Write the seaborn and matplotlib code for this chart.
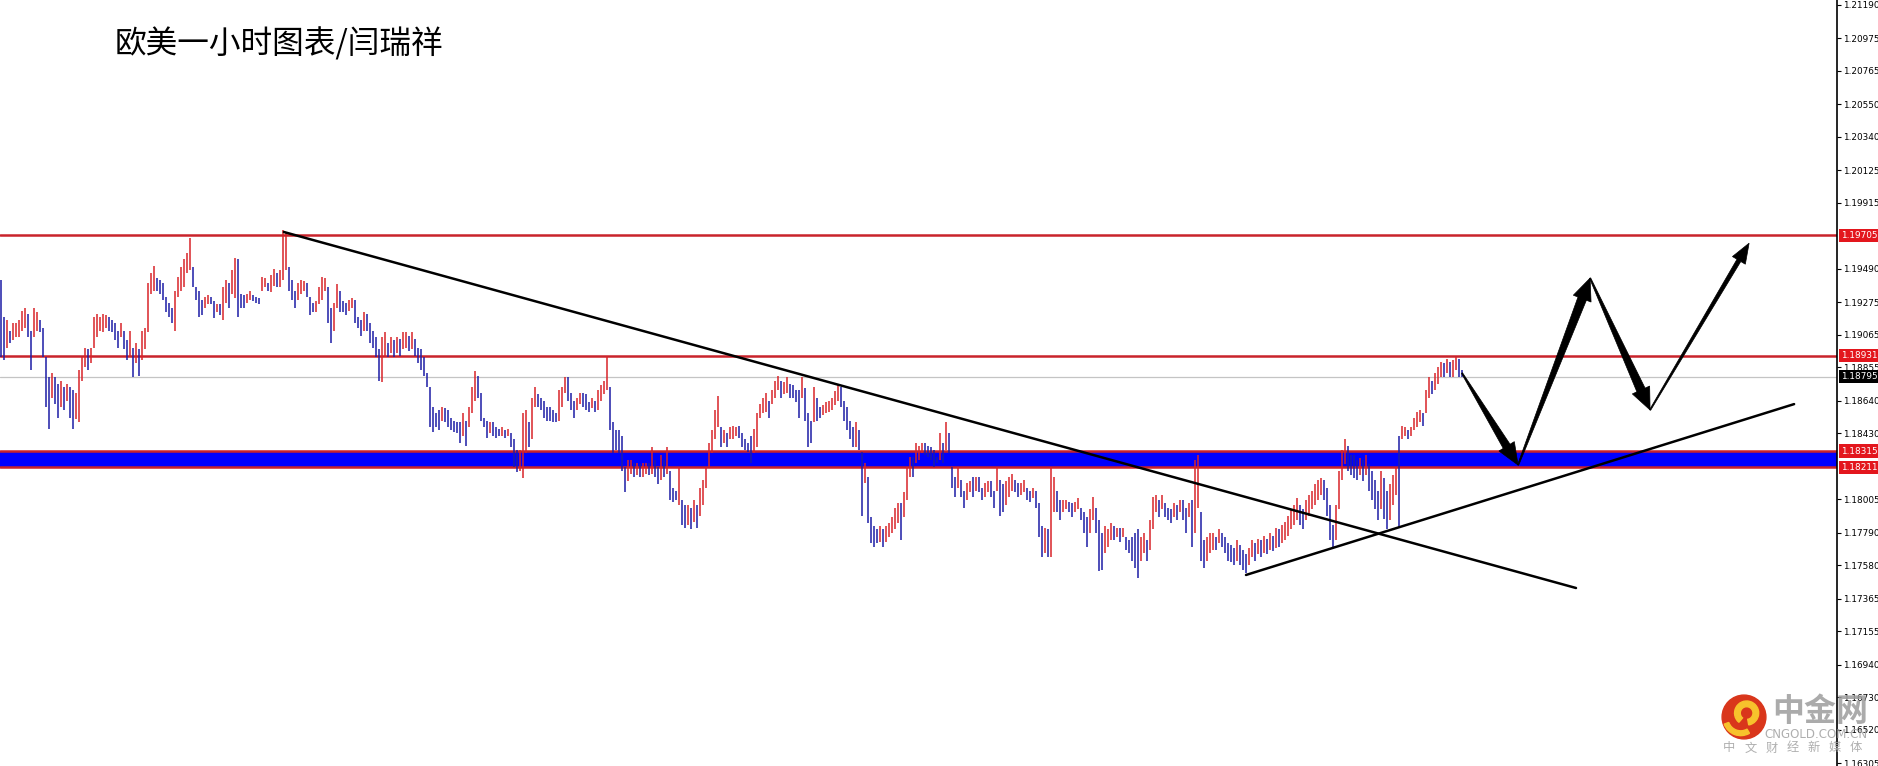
import numpy as np
import pandas as pd
import matplotlib
matplotlib.use("Agg")
import matplotlib.pyplot as plt
import matplotlib.transforms as mtransforms
from matplotlib.patches import Polygon, Circle, Wedge
import seaborn as sns

# EURUSD 1h bars (high / low per bar)
highs = [
    1.1942, 1.1918, 1.1916, 1.1909, 1.1914, 1.1914, 1.1916, 1.1922, 1.1924, 1.1920,
    1.1909, 1.1924, 1.1921, 1.1916, 1.1911, 1.1892, 1.1879, 1.1882, 1.1879, 1.1875,
    1.1877, 1.1873, 1.1875, 1.1873, 1.1871, 1.1869, 1.1884, 1.1892, 1.1898, 1.1897,
    1.1898, 1.1918, 1.1920, 1.1918, 1.1920, 1.1919, 1.1918, 1.1916, 1.1914, 1.1909,
    1.1914, 1.1909, 1.1903, 1.1909, 1.1898, 1.1901, 1.1897, 1.1909, 1.1911, 1.1940,
    1.1946, 1.1951, 1.1943, 1.1942, 1.1940, 1.1931, 1.1927, 1.1924, 1.1935, 1.1944,
    1.1950, 1.1955, 1.1959, 1.1969, 1.1950, 1.1937, 1.1935, 1.1929, 1.1931, 1.1932,
    1.1931, 1.1928, 1.1926, 1.1926, 1.1937, 1.1942, 1.1940, 1.1948, 1.1956, 1.1955,
    1.1933, 1.1932, 1.1933, 1.1935, 1.1932, 1.1931, 1.1930, 1.1944, 1.1943, 1.1940,
    1.1945, 1.1949, 1.1946, 1.1948, 1.1974, 1.1973, 1.1950, 1.1942, 1.1935, 1.1940,
    1.1942, 1.1941, 1.1940, 1.1931, 1.1927, 1.1928, 1.1937, 1.1944, 1.1943, 1.1937,
    1.1924, 1.1927, 1.1939, 1.1935, 1.1928, 1.1927, 1.1929, 1.1930, 1.1929, 1.1918,
    1.1916, 1.1921, 1.1920, 1.1914, 1.1909, 1.1905, 1.1897, 1.1905, 1.1908, 1.1901,
    1.1905, 1.1903, 1.1905, 1.1904, 1.1908, 1.1908, 1.1906, 1.1908, 1.1904, 1.1898,
    1.1897, 1.1892, 1.1882, 1.1873, 1.1860, 1.1856, 1.1858, 1.1860, 1.1859, 1.1858,
    1.1853, 1.1851, 1.1850, 1.1850, 1.1856, 1.1851, 1.1860, 1.1873, 1.1883, 1.1880,
    1.1869, 1.1853, 1.1851, 1.1850, 1.1850, 1.1847, 1.1846, 1.1847, 1.1845, 1.1846,
    1.1843, 1.1839, 1.1832, 1.1832, 1.1856, 1.1858, 1.1850, 1.1866, 1.1873, 1.1868,
    1.1866, 1.1864, 1.1860, 1.1860, 1.1858, 1.1856, 1.1871, 1.1873, 1.1879, 1.1879,
    1.1869, 1.1864, 1.1866, 1.1869, 1.1869, 1.1868, 1.1863, 1.1866, 1.1864, 1.1871,
    1.1874, 1.1877, 1.1893, 1.1873, 1.1850, 1.1845, 1.1845, 1.1841, 1.1821, 1.1826,
    1.1826, 1.1824, 1.1824, 1.1823, 1.1824, 1.1824, 1.1824, 1.1834, 1.1826, 1.1821,
    1.1829, 1.1826, 1.1834, 1.1819, 1.1808, 1.1806, 1.1821, 1.1800, 1.1797, 1.1797,
    1.1795, 1.1800, 1.1797, 1.1808, 1.1813, 1.1821, 1.1837, 1.1845, 1.1858, 1.1867,
    1.1847, 1.1845, 1.1843, 1.1847, 1.1848, 1.1847, 1.1848, 1.1843, 1.1839, 1.1837,
    1.1841, 1.1846, 1.1856, 1.1862, 1.1866, 1.1869, 1.1864, 1.1871, 1.1877, 1.1880,
    1.1877, 1.1876, 1.1879, 1.1875, 1.1874, 1.1871, 1.1871, 1.1879, 1.1872, 1.1856,
    1.1851, 1.1873, 1.1866, 1.1860, 1.1861, 1.1863, 1.1864, 1.1866, 1.1870, 1.1874,
    1.1873, 1.1864, 1.1860, 1.1851, 1.1847, 1.1850, 1.1845, 1.1831, 1.1824, 1.1815,
    1.1789, 1.1783, 1.1781, 1.1783, 1.1781, 1.1783, 1.1785, 1.1789, 1.1795, 1.1798,
    1.1798, 1.1805, 1.1821, 1.1828, 1.1828, 1.1837, 1.1835, 1.1837, 1.1837, 1.1835,
    1.1834, 1.1832, 1.1828, 1.1843, 1.1837, 1.1850, 1.1843, 1.1821, 1.1815, 1.1821,
    1.1813, 1.1806, 1.1811, 1.1812, 1.1815, 1.1815, 1.1815, 1.1808, 1.1811, 1.1812,
    1.1812, 1.1806, 1.1821, 1.1813, 1.1810, 1.1812, 1.1815, 1.1817, 1.1813, 1.1811,
    1.1811, 1.1813, 1.1808, 1.1806, 1.1808, 1.1806, 1.1798, 1.1783, 1.1782, 1.1781,
    1.1821, 1.1815, 1.1806, 1.1800, 1.1800, 1.1800, 1.1799, 1.1798, 1.1799, 1.1801,
    1.1795, 1.1792, 1.1789, 1.1794, 1.1802, 1.1795, 1.1787, 1.1779, 1.1783, 1.1781,
    1.1785, 1.1783, 1.1782, 1.1782, 1.1782, 1.1776, 1.1774, 1.1776, 1.1779, 1.1781,
    1.1776, 1.1779, 1.1774, 1.1787, 1.1802, 1.1803, 1.1800, 1.1803, 1.1798, 1.1795,
    1.1794, 1.1798, 1.1797, 1.1800, 1.1800, 1.1795, 1.1798, 1.1800, 1.1826, 1.1829,
    1.1792, 1.1774, 1.1776, 1.1779, 1.1779, 1.1776, 1.1781, 1.1779, 1.1776, 1.1772,
    1.1771, 1.1769, 1.1774, 1.1771, 1.1768, 1.1765, 1.1769, 1.1774, 1.1772, 1.1775,
    1.1774, 1.1777, 1.1775, 1.1779, 1.1777, 1.1782, 1.1781, 1.1784, 1.1786, 1.1790,
    1.1794, 1.1797, 1.1801, 1.1797, 1.1794, 1.1800, 1.1803, 1.1806, 1.1810, 1.1813,
    1.1814, 1.1813, 1.1808, 1.1797, 1.1784, 1.1797, 1.1819, 1.1832, 1.1839, 1.1835,
    1.1829, 1.1829, 1.1826, 1.1827, 1.1826, 1.1829, 1.1823, 1.1819, 1.1813, 1.1806,
    1.1819, 1.1814, 1.1806, 1.1810, 1.1816, 1.1821, 1.1841, 1.1848, 1.1847, 1.1845,
    1.1847, 1.1853, 1.1857, 1.1858, 1.1856, 1.1871, 1.1879, 1.1877, 1.1882, 1.1886,
    1.1889, 1.1888, 1.1891, 1.1889, 1.1890, 1.1892, 1.1891, 1.1884,
]
lows = [
    1.1892, 1.1890, 1.1898, 1.1901, 1.1903, 1.1905, 1.1905, 1.1909, 1.1911, 1.1905,
    1.1884, 1.1905, 1.1909, 1.1908, 1.1892, 1.1860, 1.1846, 1.1866, 1.1862, 1.1853,
    1.1860, 1.1858, 1.1864, 1.1853, 1.1846, 1.1852, 1.1850, 1.1877, 1.1886, 1.1884,
    1.1888, 1.1898, 1.1905, 1.1909, 1.1908, 1.1911, 1.1909, 1.1908, 1.1903, 1.1898,
    1.1905, 1.1897, 1.1890, 1.1892, 1.1879, 1.1888, 1.1880, 1.1890, 1.1897, 1.1908,
    1.1933, 1.1935, 1.1935, 1.1933, 1.1929, 1.1921, 1.1918, 1.1914, 1.1909, 1.1931,
    1.1935, 1.1937, 1.1946, 1.1948, 1.1937, 1.1929, 1.1918, 1.1919, 1.1924, 1.1926,
    1.1926, 1.1917, 1.1921, 1.1919, 1.1916, 1.1927, 1.1924, 1.1933, 1.1930, 1.1918,
    1.1924, 1.1924, 1.1927, 1.1929, 1.1928, 1.1927, 1.1926, 1.1935, 1.1937, 1.1935,
    1.1934, 1.1938, 1.1937, 1.1937, 1.1942, 1.1948, 1.1935, 1.1929, 1.1924, 1.1929,
    1.1933, 1.1935, 1.1931, 1.1919, 1.1921, 1.1921, 1.1926, 1.1929, 1.1935, 1.1914,
    1.1901, 1.1909, 1.1924, 1.1921, 1.1921, 1.1919, 1.1922, 1.1924, 1.1914, 1.1911,
    1.1906, 1.1909, 1.1909, 1.1901, 1.1898, 1.1892, 1.1877, 1.1876, 1.1892, 1.1892,
    1.1895, 1.1892, 1.1895, 1.1893, 1.1897, 1.1898, 1.1896, 1.1897, 1.1893, 1.1888,
    1.1884, 1.1880, 1.1873, 1.1847, 1.1844, 1.1847, 1.1845, 1.1851, 1.1850, 1.1847,
    1.1845, 1.1844, 1.1843, 1.1837, 1.1841, 1.1835, 1.1847, 1.1856, 1.1864, 1.1866,
    1.1851, 1.1847, 1.1840, 1.1843, 1.1841, 1.1840, 1.1841, 1.1841, 1.1840, 1.1841,
    1.1834, 1.1821, 1.1818, 1.1819, 1.1814, 1.1830, 1.1834, 1.1839, 1.1860, 1.1860,
    1.1858, 1.1853, 1.1851, 1.1851, 1.1850, 1.1850, 1.1851, 1.1860, 1.1869, 1.1864,
    1.1858, 1.1853, 1.1858, 1.1862, 1.1860, 1.1858, 1.1857, 1.1859, 1.1857, 1.1858,
    1.1864, 1.1868, 1.1871, 1.1845, 1.1830, 1.1832, 1.1830, 1.1819, 1.1805, 1.1812,
    1.1817, 1.1815, 1.1816, 1.1815, 1.1815, 1.1817, 1.1816, 1.1817, 1.1815, 1.1810,
    1.1813, 1.1815, 1.1817, 1.1800, 1.1799, 1.1800, 1.1797, 1.1784, 1.1782, 1.1784,
    1.1781, 1.1786, 1.1782, 1.1790, 1.1797, 1.1808, 1.1821, 1.1830, 1.1839, 1.1847,
    1.1834, 1.1837, 1.1834, 1.1839, 1.1839, 1.1841, 1.1840, 1.1834, 1.1832, 1.1831,
    1.1824, 1.1830, 1.1834, 1.1853, 1.1856, 1.1857, 1.1853, 1.1862, 1.1866, 1.1871,
    1.1866, 1.1868, 1.1869, 1.1866, 1.1866, 1.1863, 1.1853, 1.1866, 1.1851, 1.1834,
    1.1837, 1.1850, 1.1851, 1.1853, 1.1855, 1.1856, 1.1857, 1.1858, 1.1861, 1.1864,
    1.1860, 1.1851, 1.1845, 1.1839, 1.1834, 1.1834, 1.1832, 1.1790, 1.1811, 1.1785,
    1.1772, 1.1770, 1.1772, 1.1773, 1.1770, 1.1773, 1.1776, 1.1779, 1.1781, 1.1785,
    1.1774, 1.1789, 1.1800, 1.1815, 1.1815, 1.1824, 1.1826, 1.1830, 1.1829, 1.1828,
    1.1826, 1.1821, 1.1824, 1.1826, 1.1824, 1.1832, 1.1830, 1.1808, 1.1802, 1.1808,
    1.1802, 1.1795, 1.1800, 1.1805, 1.1802, 1.1806, 1.1805, 1.1800, 1.1802, 1.1805,
    1.1802, 1.1795, 1.1806, 1.1790, 1.1792, 1.1797, 1.1802, 1.1806, 1.1805, 1.1802,
    1.1803, 1.1805, 1.1800, 1.1799, 1.1801, 1.1795, 1.1776, 1.1763, 1.1766, 1.1763,
    1.1763, 1.1792, 1.1792, 1.1787, 1.1792, 1.1794, 1.1792, 1.1789, 1.1792, 1.1794,
    1.1787, 1.1779, 1.1770, 1.1779, 1.1787, 1.1779, 1.1754, 1.1755, 1.1766, 1.1770,
    1.1774, 1.1774, 1.1776, 1.1773, 1.1776, 1.1768, 1.1766, 1.1761, 1.1756, 1.1750,
    1.1761, 1.1766, 1.1761, 1.1768, 1.1781, 1.1792, 1.1789, 1.1794, 1.1789, 1.1787,
    1.1785, 1.1789, 1.1787, 1.1792, 1.1787, 1.1779, 1.1789, 1.1770, 1.1779, 1.1795,
    1.1761, 1.1756, 1.1761, 1.1766, 1.1768, 1.1768, 1.1772, 1.1770, 1.1766, 1.1761,
    1.1760, 1.1758, 1.1761, 1.1758, 1.1755, 1.1753, 1.1758, 1.1763, 1.1761, 1.1765,
    1.1763, 1.1766, 1.1765, 1.1768, 1.1767, 1.1769, 1.1770, 1.1772, 1.1774, 1.1777,
    1.1781, 1.1784, 1.1787, 1.1784, 1.1781, 1.1787, 1.1790, 1.1794, 1.1797, 1.1800,
    1.1803, 1.1800, 1.1790, 1.1774, 1.1770, 1.1774, 1.1794, 1.1813, 1.1823, 1.1819,
    1.1816, 1.1814, 1.1813, 1.1816, 1.1812, 1.1816, 1.1806, 1.1800, 1.1794, 1.1787,
    1.1794, 1.1788, 1.1781, 1.1787, 1.1797, 1.1803, 1.1782, 1.1839, 1.1841, 1.1839,
    1.1841, 1.1845, 1.1847, 1.1850, 1.1848, 1.1856, 1.1866, 1.1868, 1.1871, 1.1875,
    1.1879, 1.1879, 1.1882, 1.1879, 1.1879, 1.1884, 1.1879, 1.1879,
]

# horizontal levels
resist_levels = [1.19705, 1.18931]
zone_top = 1.18315
zone_bottom = 1.18211
last_price = 1.18795

# price axis
ticks = [1.21190, 1.20975, 1.20765, 1.20550, 1.20340, 1.20125, 1.19915,
         1.19490, 1.19275, 1.19065, 1.18855, 1.18640, 1.18430, 1.18005,
         1.17790, 1.17580, 1.17365, 1.17155, 1.16940, 1.16730, 1.16520, 1.16305]
red_tags = [1.19705, 1.18931, 1.18315, 1.18211]

# hand-drawn trend lines (bar index, price)
down_trend_x = [94.3, 525.0]
down_trend_y = [1.19727, 1.17433]
up_trend_x = [415.0, 597.7]
up_trend_y = [1.17517, 1.18618]

# projected zigzag path
path_x = [487.0, 505.7, 529.7, 549.7, 582.7]
path_y = [1.18818, 1.18225, 1.19430, 1.18580, 1.19655]
shaft_w = [4.0, 4.5, 4.5, 2.2]
head_w = [9.0, 9.5, 9.5, 7.5]
head_l = [22, 22, 22, 20]

title = "欧美一小时图表/闫瑞祥"
brand = "中金网"
brand_site = "CNGOLD.COM.CN"
brand_tag = "中文财经新媒体"

sns.set_theme(style="white")
plt.rcParams['font.family'] = ['DejaVu Sans']

W, H = 1878, 766
fig = plt.figure(figsize=(W / 100, H / 100), dpi=100)
fig.patch.set_facecolor("white")
ax = fig.add_axes([0, 0, 1837 / W, 1])
ax.set_facecolor("white")

n = min(len(highs), len(lows))
df = pd.DataFrame({"bar": np.arange(n), "high": highs[:n], "low": lows[:n]})
df["mid"] = (df["high"] + df["low"]) / 2
df["up"] = df["mid"].diff().fillna(-1) > 0
colors = np.where(df["up"], "#d8242a", "#1d1da6")

# levels
ax.axhline(last_price, color="#c4c4c4", lw=0.9, zorder=1)
ax.axhspan(zone_bottom, zone_top, color="#0000ff", lw=0, zorder=1)
for lv in resist_levels + [zone_top, zone_bottom]:
    ax.axhline(lv, color="#c9232b", lw=1.8, zorder=2)

ax.vlines(df["bar"], df["low"], df["high"], colors=colors, lw=1.1, zorder=3)

sns.lineplot(x=down_trend_x, y=down_trend_y, color="black", lw=1.8, ax=ax, zorder=4)
sns.lineplot(x=up_trend_x, y=up_trend_y, color="black", lw=1.8, ax=ax, zorder=4)

ax.set_xlim(-1 / 3, 612)
ax.set_ylim(1.16286, 1.21222)
ax.set_autoscale_on(False)

# axis styling
for side in ["top", "left", "bottom"]:
    ax.spines[side].set_visible(False)
ax.spines["right"].set_color("black")
ax.spines["right"].set_linewidth(1.2)
ax.set_xticks([])
ax.yaxis.tick_right()
ax.set_yticks(ticks)
ax.set_yticklabels([f"{t:.5f}" for t in ticks])
ax.tick_params(axis="y", direction="out", length=3, width=0.8, pad=1.5,
               labelsize=6.4, colors="black")
ax.grid(False)

tag_tr = mtransforms.blended_transform_factory(ax.transAxes, ax.transData)
for v in red_tags:
    ax.text(1.0 + 4 / 1837, v, f"{v:.5f}", transform=tag_tr, ha="left", va="center",
            color="white", fontsize=6.4, clip_on=False, zorder=10,
            bbox=dict(boxstyle="square,pad=0.25", fc="#e3161d", ec="none"))
ax.text(1.0 + 4 / 1837, last_price, f"{last_price:.5f}", transform=tag_tr, ha="left",
        va="center", color="white", fontsize=6.4, clip_on=False, zorder=10,
        bbox=dict(boxstyle="square,pad=0.25", fc="black", ec="none"))

# tapered arrows for the projected path
fig.canvas.draw()
for k in range(len(path_x) - 1):
    p0 = ax.transData.transform((path_x[k], path_y[k]))
    p1 = ax.transData.transform((path_x[k + 1], path_y[k + 1]))
    d = p1 - p0
    u = d / np.hypot(*d)
    nrm = np.array([-u[1], u[0]])
    base = p1 - u * head_l[k]
    pts = [p0 + nrm * 0.6, base + nrm * shaft_w[k], base + nrm * head_w[k], p1,
           base - nrm * head_w[k], base - nrm * shaft_w[k], p0 - nrm * 0.6]
    fig.add_artist(Polygon(pts, closed=True, fc="black", ec="black", lw=0.5,
                           transform=mtransforms.IdentityTransform(), zorder=6))

fig.text(115 / W, 1 - 44 / H, title, fontsize=22.8, ha="left", va="center",
         family=["Noto Sans CJK SC", "DejaVu Sans"], color="black")

# watermark
lax = fig.add_axes([1721 / W, 1 - 740 / H, 46 / W, 46 / H])
lax.set_xlim(-1.05, 1.05)
lax.set_ylim(-1.05, 1.05)
lax.set_aspect("equal")
lax.axis("off")
lax.add_patch(Circle((0, 0), 1.0, color="#d9361b"))
lax.add_patch(Wedge((0.12, 0.18), 0.55, -80, 230, width=0.26, color="#f7c22c"))
lax.add_patch(Wedge((-0.15, -0.05), 0.8, 200, 300, width=0.22, color="#f7c22c"))

fig.text(1772 / W, 1 - 712 / H, brand, fontsize=23, ha="left", va="center",
         family=["Noto Sans CJK SC"], weight="bold", color="#9c9c9c", alpha=0.85)
fig.text(1816 / W, 1 - 735 / H, brand_site, fontsize=8.5, ha="center",
         va="center", color="#a6a6a6", alpha=0.9)
for j, ch in enumerate(brand_tag):
    fig.text((1729 + j * 21.2) / W, 1 - 748 / H, ch, fontsize=8.8, ha="center",
             va="center", family=["Noto Sans CJK SC"], color="#a6a6a6", alpha=0.9)

fig.savefig("out.png", dpi=100)
